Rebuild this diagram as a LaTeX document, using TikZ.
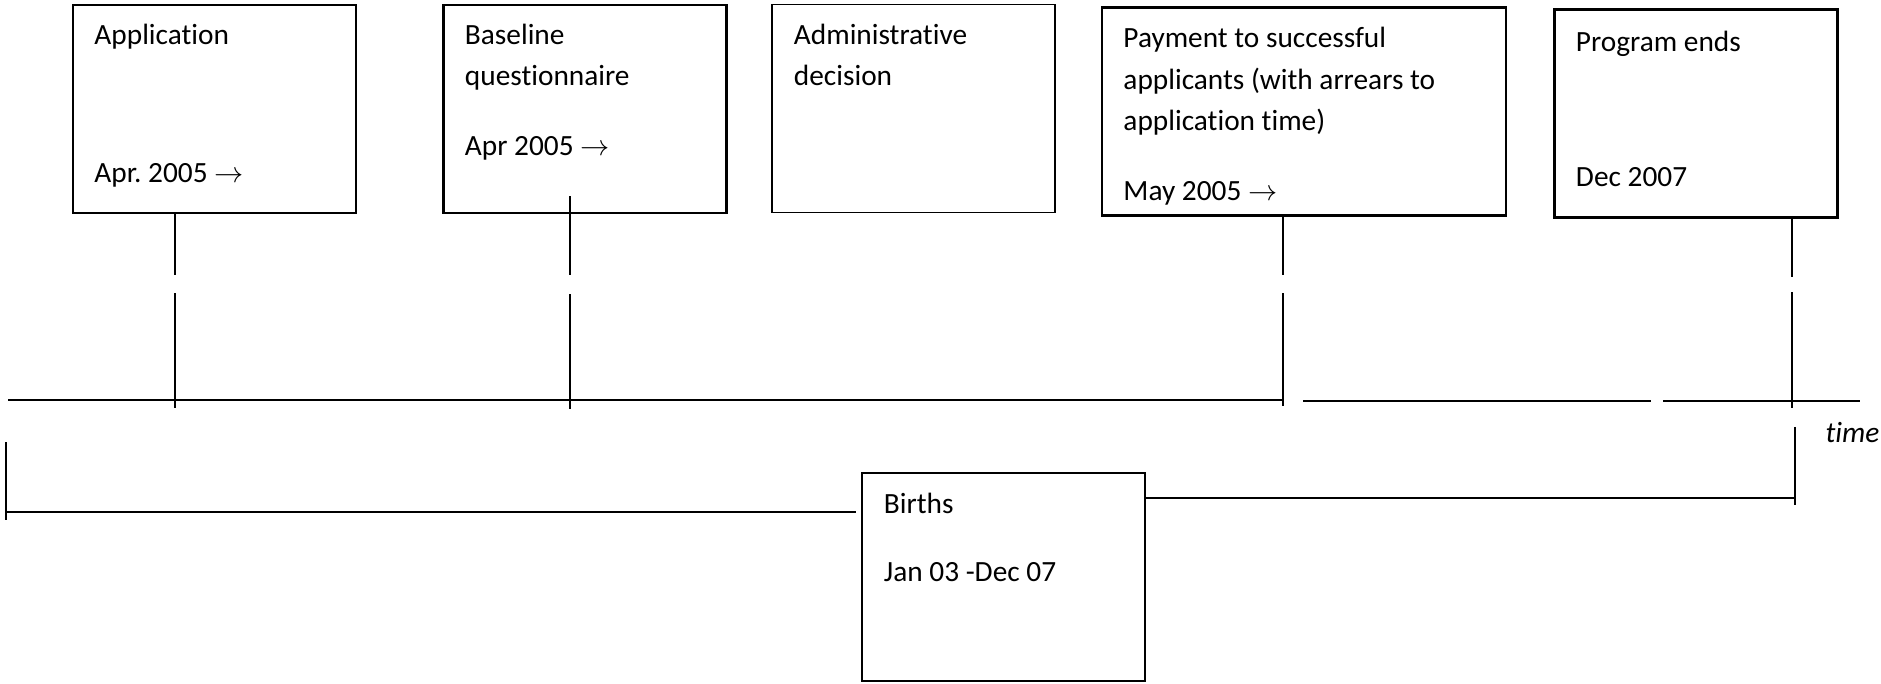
\documentclass[tikz,border=0pt]{standalone}
\usepackage{fontspec}
\setmainfont{Carlito}[Ligatures=NoCommon]
\usetikzlibrary{calc}
\newlength\px
\setlength\px{0.375pt}
\frenchspacing

\begin{document}
\begin{tikzpicture}[x=0.375pt,y=-0.375pt,
    evbox/.style={draw,line width=0.8pt,inner sep=0pt,minimum width=283\px,minimum height=208\px},
    thinbox/.style={evbox,line width=0.45pt},
    txt/.style={anchor=base west,inner sep=0pt,font=\fontsize{11}{13}\selectfont},
    tick/.style={line width=0.5pt},
    axis/.style={line width=0.75pt}]

  \useasboundingbox (0,0) rectangle (1881,684);

  % event boxes
  \node[evbox] (app) at (214.5,109) {};
  \node[evbox] (base) at (585,109) {};
  \node[thinbox] (admin) at (913.5,108.5) {};
  \node[evbox,minimum width=404\px] (pay) at (1304,111.5) {};
  \node[evbox] (prog) at (1696,113.5) {};
  \node[thinbox] (births) at (1003.5,577) {};

  \node[txt] (appT) at ($(app.north west)+(22,41)$) {Application};
  \node[txt] (appD) at ($(app.north west)+(22,179)$) {Apr. 2005 $\rightarrow$};
  \node[txt] (baseT) at ($(base.north west)+(22,41)$) {Baseline};
  \node[txt] (baseU) at ($(base.north west)+(22,82)$) {questionnaire};
  \node[txt] (baseD) at ($(base.north west)+(22,152)$) {Apr 2005 $\rightarrow$};
  \node[txt] (adminT) at ($(admin.north west)+(22,41)$) {Administrative};
  \node[txt] (adminU) at ($(admin.north west)+(22,82)$) {decision};
  \node[txt] (payT) at ($(pay.north west)+(22,41)$) {Payment to successful};
  \node[txt] (payU) at ($(pay.north west)+(22,83)$) {applicants (with arrears to};
  \node[txt] (payV) at ($(pay.north west)+(22,124)$) {application time)};
  \node[txt] (payD) at ($(pay.north west)+(22,194)$) {May 2005 $\rightarrow$};
  \node[txt] (progT) at ($(prog.north west)+(22,43)$) {Program ends};
  \node[txt] (progD) at ($(prog.north west)+(22,178)$) {Dec 2007};
  \node[txt] (birthsT) at ($(births.north west)+(22,41)$) {Births};
  \node[txt] (birthsD) at ($(births.north west)+(22,109)$) {Jan 03 -Dec 07};
  \node[txt,font=\fontsize{11}{13}\selectfont\itshape] (timeL) at (1825,442) {time};

  % time axis
  \coordinate (tA) at (175,408);
  \coordinate (tB) at (570,409);
  \coordinate (tP) at (1283,406);
  \coordinate (tE) at (1792,408);
  \coordinate (ax0) at (8,400);
  \draw[axis] (ax0) -- (ax0 -| tP);
  \draw[axis] (1303,401) -- (1651,401) (1663,401) -- (1860,401);

  % ticks from the boxes
  \draw[tick] (app.south -| tA) -- ++(0,61) (tA) -- ++(0,-115);
  \draw[tick] ($(base.south -| tB)+(0,-18)$) -- ++(0,79) (tB) -- ++(0,-115);
  \draw[tick] (pay.south -| tP) -- ++(0,58) (tP) -- ++(0,-113);
  \draw[tick] (prog.south -| tE) -- ++(0,58) (tE) -- ++(0,-116);

  % births span
  \coordinate (bL) at (6,512);
  \coordinate (bR) at (1795,498);
  \draw[axis] (bL) -- ([xshift=-5\px]births.west |- bL);
  \draw[tick] ($(bL)+(0,-70)$) -- ($(bL)+(0,8)$);
  \draw[axis] (births.east |- bR) -- (bR);
  \draw[tick] ($(bR)+(0,-71)$) -- ($(bR)+(0,7)$);
\end{tikzpicture}
\end{document}
